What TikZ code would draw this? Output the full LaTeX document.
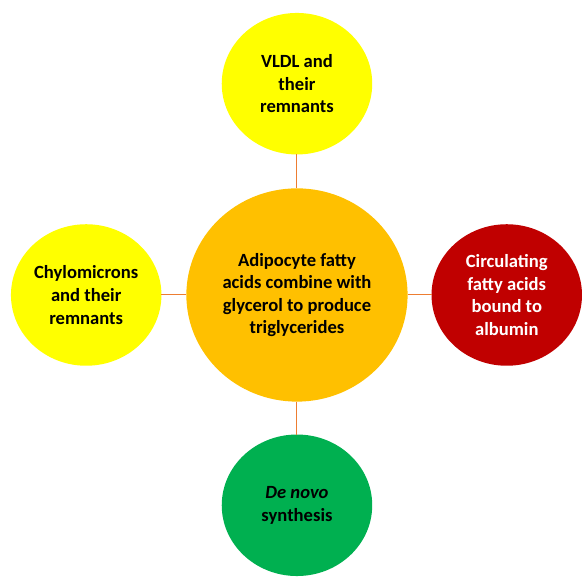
\documentclass[tikz,border=0pt]{standalone}
\usepackage{fontspec}
\setmainfont{Carlito}
\usetikzlibrary{shapes.geometric,positioning,calc}
\definecolor{lipyellow}{HTML}{FFFF00}
\definecolor{hubgold}{HTML}{FFC000}
\definecolor{albred}{HTML}{C00000}
\definecolor{synthgreen}{HTML}{00B050}
\definecolor{linkorange}{HTML}{ED7D31}
\tikzstyle{source} = [ellipse, minimum width=113.25pt, minimum height=106.5pt,
inner sep=0pt, outer sep=0pt, align=center, font=\bfseries\fontsize{14}{17}\selectfont]
\tikzstyle{hub} = [source, minimum width=166.5pt, minimum height=160.5pt]
\tikzstyle{line} = [draw, linkorange, line width=0.75pt]
\begin{document}
\begin{tikzpicture}

\node [hub, fill=hubgold] (hub) {Adipocyte fatty\\acids combine with\\glycerol to produce\\triglycerides};
\node [source, fill=lipyellow, above = 25.5pt of hub] (vldl) {VLDL and\\their\\remnants};
\node [source, fill=lipyellow, left = 18.75pt of hub] (chylo) {Chylomicrons\\and their\\remnants};
\node [source, fill=albred, text=white, right = 18pt of hub] (albumin) {Circulating\\fatty acids\\bound to\\albumin};
\node [source, fill=synthgreen, below = 24.75pt of hub] (denovo) {\textit{De novo}\\synthesis};
\useasboundingbox ($(hub.center) + (-223.5pt, 222pt)$) rectangle ($(hub.center) + (213pt, -207.75pt)$);
\path [line] (hub) -- (vldl);
\path [line] (hub) -- (chylo);
\path [line] (hub) -- (albumin);
\path [line] (hub) -- (denovo);
\end{tikzpicture}
\end{document}
